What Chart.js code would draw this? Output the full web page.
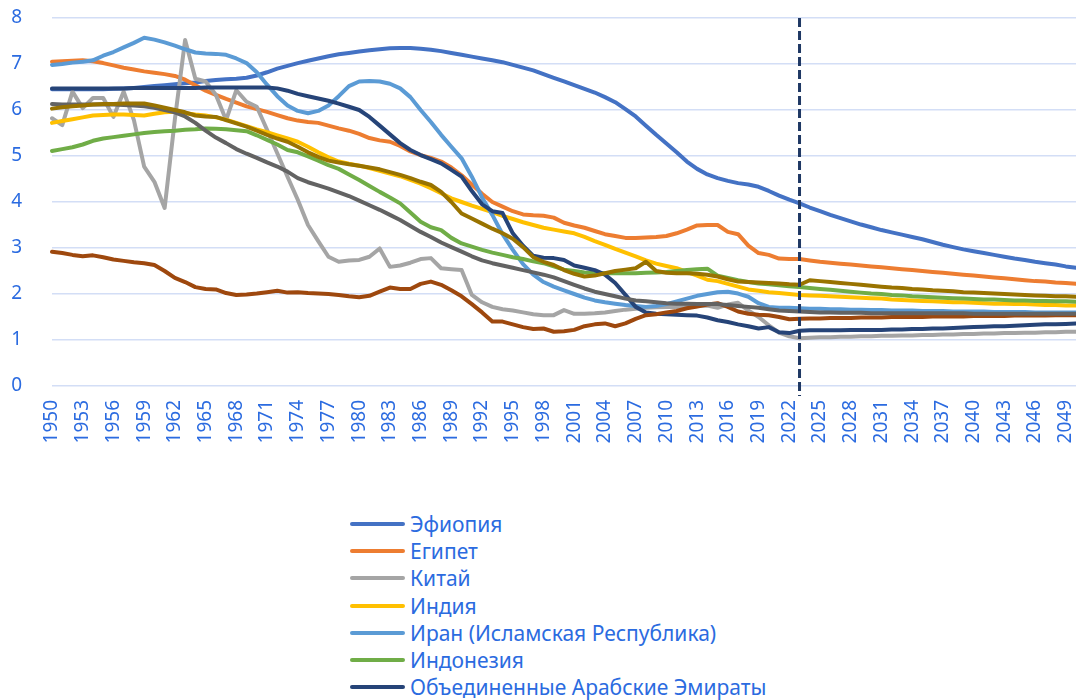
<!DOCTYPE html>
<html lang="ru">
<head>
<meta charset="utf-8">
<script src="https://cdn.jsdelivr.net/npm/chart.js@4.4.1/dist/chart.umd.min.js"></script>
<style>
  html, body { margin: 0; padding: 0; background: #fff; width: 1076px; height: 700px; overflow: hidden; }
  #wrap { position: relative; width: 1076px; height: 700px; }
  #chart { position: absolute; left: 0; top: 0; }
  #legend { position: absolute; left: 350px; top: 510px; font-family: "Noto Sans", sans-serif; font-size: 21px; color: #2b6be0; }
  #legend .item { display: flex; align-items: center; height: 27.3px; white-space: nowrap; }
  #legend .sw { width: 55px; height: 4px; border-radius: 2px; margin-right: 5px; }
</style>
</head>
<body>
<div id="wrap">
  <canvas id="chart" width="1076" height="480"></canvas>
  <div id="legend"></div>
</div>
<script>
// ---- data (total fertility, 1950-2050) ----
const years = [];
for (let y = 1950; y <= 2050; y++) years.push(y);
const markerYear = 2023;

const ethiopia = [6.45,6.45,6.45,6.45,6.45,6.45,6.46,6.47,6.48,6.50, 6.52,6.54,6.56,6.58,6.60,6.63,6.65,6.67,6.68,6.70,
  6.75,6.82,6.90,6.96,7.02,7.07,7.12,7.17,7.21,7.24, 7.27,7.30,7.32,7.34,7.35,7.35,7.33,7.31,7.28,7.24,
  7.20,7.16,7.12,7.08,7.04,6.98,6.92,6.86,6.78,6.70, 6.62,6.54,6.46,6.38,6.28,6.17,6.02,5.86,5.66,5.46,
  5.27,5.08,4.88,4.72,4.60,4.52,4.46,4.41,4.38,4.33, 4.24,4.14,4.05,3.97,3.88,3.80,3.72,3.65,3.58,3.51,
  3.45,3.39,3.34,3.29,3.24,3.19,3.13,3.07,3.02,2.97, 2.93,2.89,2.85,2.81,2.77,2.74,2.70,2.67,2.64,2.60, 2.57];
const egypt = [7.05,7.06,7.07,7.08,7.06,7.02,6.97,6.92,6.88,6.84, 6.81,6.78,6.74,6.66,6.54,6.42,6.33,6.24,6.16,6.08,
  6.02,5.96,5.89,5.82,5.77,5.74,5.72,5.66,5.60,5.55, 5.48,5.39,5.34,5.31,5.22,5.10,5.02,4.96,4.88,4.75,
  4.58,4.38,4.18,4.00,3.90,3.80,3.73,3.71,3.70,3.66, 3.55,3.49,3.44,3.37,3.30,3.26,3.22,3.22,3.23,3.24,
  3.26,3.32,3.40,3.49,3.50,3.50,3.35,3.30,3.05,2.89, 2.85,2.77,2.76,2.76,2.73,2.70,2.68,2.66,2.64,2.62,
  2.60,2.58,2.56,2.54,2.52,2.50,2.48,2.46,2.44,2.42, 2.40,2.38,2.36,2.34,2.32,2.30,2.28,2.27,2.25,2.24, 2.22];
const china = [5.82,5.67,6.40,6.04,6.26,6.26,5.85,6.40,5.78,4.77, 4.44,3.87,5.80,7.52,6.68,6.62,6.33,5.78,6.43,6.18,
  6.07,5.57,5.06,4.55,4.05,3.50,3.15,2.81,2.70,2.73, 2.74,2.81,2.99,2.59,2.62,2.68,2.76,2.78,2.56,2.54,
  2.52,1.98,1.82,1.72,1.67,1.64,1.60,1.56,1.54,1.54, 1.65,1.57,1.57,1.58,1.60,1.63,1.66,1.68,1.70,1.71,
  1.72,1.72,1.73,1.74,1.75,1.70,1.77,1.81,1.64,1.50, 1.32,1.16,1.08,1.04,1.05,1.06,1.06,1.07,1.07,1.08,
  1.08,1.09,1.09,1.10,1.10,1.11,1.11,1.12,1.12,1.13, 1.13,1.14,1.14,1.15,1.15,1.16,1.16,1.17,1.17,1.18, 1.18];
const india = [5.72,5.76,5.80,5.84,5.88,5.89,5.90,5.90,5.89,5.88, 5.92,5.95,5.96,5.93,5.90,5.88,5.84,5.79,5.72,5.65,
  5.58,5.52,5.45,5.38,5.31,5.20,5.08,4.97,4.88,4.83, 4.79,4.74,4.68,4.62,4.56,4.48,4.40,4.30,4.19,4.08,
  4.00,3.92,3.85,3.78,3.70,3.63,3.56,3.50,3.44,3.40, 3.36,3.32,3.24,3.15,3.07,2.98,2.90,2.82,2.73,2.66,
  2.61,2.56,2.48,2.40,2.31,2.28,2.22,2.16,2.10,2.07, 2.04,2.02,2.00,1.98,1.97,1.96,1.95,1.94,1.93,1.92,
  1.91,1.90,1.88,1.87,1.86,1.85,1.84,1.83,1.82,1.82, 1.81,1.80,1.79,1.79,1.78,1.78,1.77,1.76,1.76,1.75, 1.75];
const iran = [6.98,7.00,7.03,7.05,7.08,7.18,7.26,7.36,7.46,7.57, 7.53,7.47,7.40,7.32,7.25,7.23,7.22,7.20,7.12,7.02,
  6.82,6.55,6.30,6.10,5.98,5.93,5.98,6.10,6.30,6.52, 6.62,6.63,6.62,6.57,6.47,6.28,6.00,5.74,5.46,5.20,
  4.95,4.55,4.10,3.72,3.30,2.96,2.65,2.42,2.26,2.16, 2.08,2.00,1.92,1.86,1.82,1.79,1.76,1.74,1.72,1.74,
  1.78,1.84,1.90,1.96,2.00,2.04,2.05,2.01,1.94,1.80, 1.72,1.70,1.70,1.69,1.68,1.68,1.67,1.67,1.66,1.66,
  1.65,1.65,1.64,1.64,1.64,1.63,1.63,1.63,1.62,1.62, 1.62,1.62,1.61,1.61,1.61,1.61,1.60,1.60,1.60,1.60, 1.60];
const indonesia = [5.11,5.15,5.19,5.25,5.33,5.38,5.41,5.44,5.47,5.50, 5.52,5.54,5.55,5.57,5.58,5.60,5.59,5.58,5.56,5.54,
  5.45,5.35,5.25,5.13,5.08,4.99,4.90,4.80,4.72,4.60, 4.48,4.35,4.22,4.10,3.97,3.77,3.57,3.45,3.39,3.22,
  3.10,3.03,2.96,2.90,2.85,2.80,2.76,2.71,2.67,2.60, 2.53,2.50,2.47,2.45,2.45,2.45,2.45,2.45,2.46,2.47,
  2.48,2.50,2.52,2.54,2.55,2.40,2.35,2.30,2.26,2.23, 2.21,2.19,2.17,2.15,2.13,2.11,2.09,2.07,2.05,2.03,
  2.01,2.00,1.98,1.97,1.95,1.94,1.93,1.92,1.91,1.90, 1.89,1.88,1.88,1.87,1.86,1.86,1.85,1.85,1.84,1.84, 1.83];
const uae = [6.47,6.47,6.47,6.47,6.47,6.47,6.47,6.47,6.48,6.48, 6.48,6.48,6.48,6.48,6.48,6.49,6.49,6.49,6.49,6.49,
  6.49,6.49,6.47,6.42,6.35,6.30,6.25,6.20,6.14,6.07, 6.00,5.85,5.66,5.47,5.28,5.13,5.02,4.93,4.84,4.70,
  4.55,4.24,3.95,3.80,3.76,3.32,3.05,2.83,2.79,2.78, 2.74,2.62,2.57,2.52,2.42,2.24,1.98,1.72,1.60,1.57,
  1.56,1.55,1.54,1.53,1.49,1.43,1.39,1.34,1.30,1.25, 1.28,1.17,1.15,1.20,1.21,1.21,1.21,1.21,1.22,1.22,
  1.22,1.22,1.23,1.23,1.24,1.24,1.25,1.25,1.26,1.27, 1.28,1.29,1.30,1.30,1.31,1.32,1.33,1.34,1.34,1.35, 1.36];
const russia = [2.92,2.89,2.85,2.82,2.84,2.80,2.75,2.72,2.69,2.67, 2.63,2.50,2.35,2.26,2.15,2.11,2.10,2.02,1.98,1.99,
  2.01,2.04,2.07,2.03,2.04,2.02,2.01,2.00,1.98,1.95, 1.93,1.96,2.05,2.14,2.11,2.11,2.22,2.27,2.20,2.08,
  1.95,1.78,1.60,1.40,1.40,1.34,1.28,1.24,1.25,1.18, 1.19,1.22,1.30,1.34,1.36,1.30,1.36,1.46,1.54,1.56,
  1.60,1.63,1.69,1.73,1.77,1.80,1.72,1.62,1.57,1.55, 1.54,1.50,1.45,1.46,1.47,1.47,1.48,1.48,1.48,1.49,
  1.49,1.49,1.50,1.50,1.50,1.50,1.51,1.51,1.51,1.51, 1.52,1.52,1.52,1.52,1.53,1.53,1.53,1.53,1.54,1.54, 1.54];
const brazil = [6.13,6.12,6.12,6.12,6.12,6.12,6.12,6.11,6.10,6.08, 6.05,6.00,5.95,5.86,5.72,5.55,5.40,5.28,5.15,5.05,
  4.96,4.86,4.77,4.66,4.52,4.43,4.36,4.29,4.21,4.13, 4.03,3.93,3.83,3.72,3.61,3.48,3.35,3.24,3.12,3.02,
  2.92,2.82,2.73,2.67,2.62,2.57,2.52,2.47,2.42,2.36, 2.28,2.20,2.12,2.05,2.00,1.95,1.90,1.86,1.84,1.82,
  1.80,1.79,1.79,1.78,1.78,1.78,1.76,1.74,1.72,1.70, 1.67,1.64,1.63,1.62,1.61,1.60,1.60,1.59,1.59,1.59,
  1.58,1.58,1.58,1.58,1.58,1.58,1.58,1.58,1.58,1.58, 1.57,1.57,1.57,1.57,1.57,1.57,1.57,1.57,1.57,1.57, 1.57];
const southAfrica = [6.03,6.06,6.08,6.10,6.12,6.13,6.13,6.14,6.14,6.14, 6.10,6.05,6.00,5.95,5.88,5.86,5.85,5.78,5.71,5.64,
  5.55,5.46,5.38,5.31,5.20,5.08,4.98,4.90,4.86,4.82, 4.79,4.75,4.71,4.65,4.59,4.52,4.44,4.37,4.22,4.00,
  3.75,3.64,3.53,3.42,3.32,3.20,3.02,2.80,2.70,2.63, 2.52,2.44,2.38,2.40,2.45,2.50,2.53,2.56,2.70,2.50,
  2.46,2.45,2.45,2.44,2.42,2.38,2.32,2.27,2.26,2.25, 2.24,2.23,2.21,2.20,2.30,2.28,2.26,2.24,2.22,2.20,
  2.18,2.16,2.14,2.13,2.11,2.10,2.08,2.07,2.06,2.04, 2.03,2.02,2.01,2.00,1.99,1.98,1.97,1.96,1.95,1.95, 1.94];

const seriesNames = ["Эфиопия", "Египет", "Китай", "Индия", "Иран (Исламская Республика)", "Индонезия",
  "Объединенные Арабские Эмираты", "Российская Федерация", "Бразилия", "Южная Африка"];
const seriesData = [ethiopia, egypt, china, india, iran, indonesia, uae, russia, brazil, southAfrica];
const seriesColors = ["#4472c4", "#ed7d31", "#a5a5a5", "#ffc000", "#5b9bd5", "#70ad47",
  "#264478", "#9e480e", "#636363", "#997300"];

const TEXT_BLUE = "#2b6be0";
const FONT = "'Noto Sans', sans-serif";

// dashed vertical line at the last observed year
const markerLine = {
  id: "markerLine",
  afterDatasetsDraw(chart) {
    const x = chart.scales.x.getPixelForValue(years.indexOf(markerYear));
    const { top, bottom } = chart.chartArea;
    const c = chart.ctx;
    c.save();
    c.strokeStyle = "#1f3864";
    c.lineWidth = 3;
    c.setLineDash([9, 4]);
    c.beginPath();
    c.moveTo(x, top);
    c.lineTo(x, bottom + 10);
    c.stroke();
    c.restore();
  }
};

const datasets = seriesNames.map((name, i) => ({
  label: name,
  data: seriesData[i],
  borderColor: seriesColors[i],
  backgroundColor: seriesColors[i],
  order: seriesNames.length - i
}));

new Chart(document.getElementById("chart"), {
  type: "line",
  data: { labels: years.map(String), datasets },
  options: {
    responsive: false,
    animation: false,
    layout: { padding: { top: 18, right: 0, left: 0, bottom: 0 } },
    elements: {
      point: { radius: 0 },
      line: { borderWidth: 4, tension: 0, borderCapStyle: "round", borderJoinStyle: "round" }
    },
    plugins: { legend: { display: false }, tooltip: { enabled: false } },
    scales: {
      x: {
        grid: { display: false, drawTicks: false },
        border: { display: false },
        ticks: {
          autoSkip: false, minRotation: 90, maxRotation: 90, padding: 14,
          color: TEXT_BLUE, font: { family: FONT, size: 19 },
          callback: (v, i) => (i % 3 === 0 ? String(years[i]) : "")
        },
        afterFit: s => { s.height = 94; s.paddingLeft = 0; s.paddingRight = 0; }
      },
      y: {
        min: 0, max: 8,
        ticks: { stepSize: 1, padding: 30, color: TEXT_BLUE, font: { family: FONT, size: 19 } },
        grid: { color: "#d3def6", lineWidth: 1.5, drawTicks: false },
        border: { display: false },
        afterFit: s => { s.width = 52; s.paddingTop = 0; s.paddingBottom = 0; }
      }
    }
  },
  plugins: [markerLine]
});

// legend, one entry per row
const legend = document.getElementById("legend");
legend.innerHTML = seriesNames.map((n, i) =>
  `<div class="item"><span class="sw" style="background:${seriesColors[i]}"></span>${n}</div>`).join("");
</script>
</body>
</html>
